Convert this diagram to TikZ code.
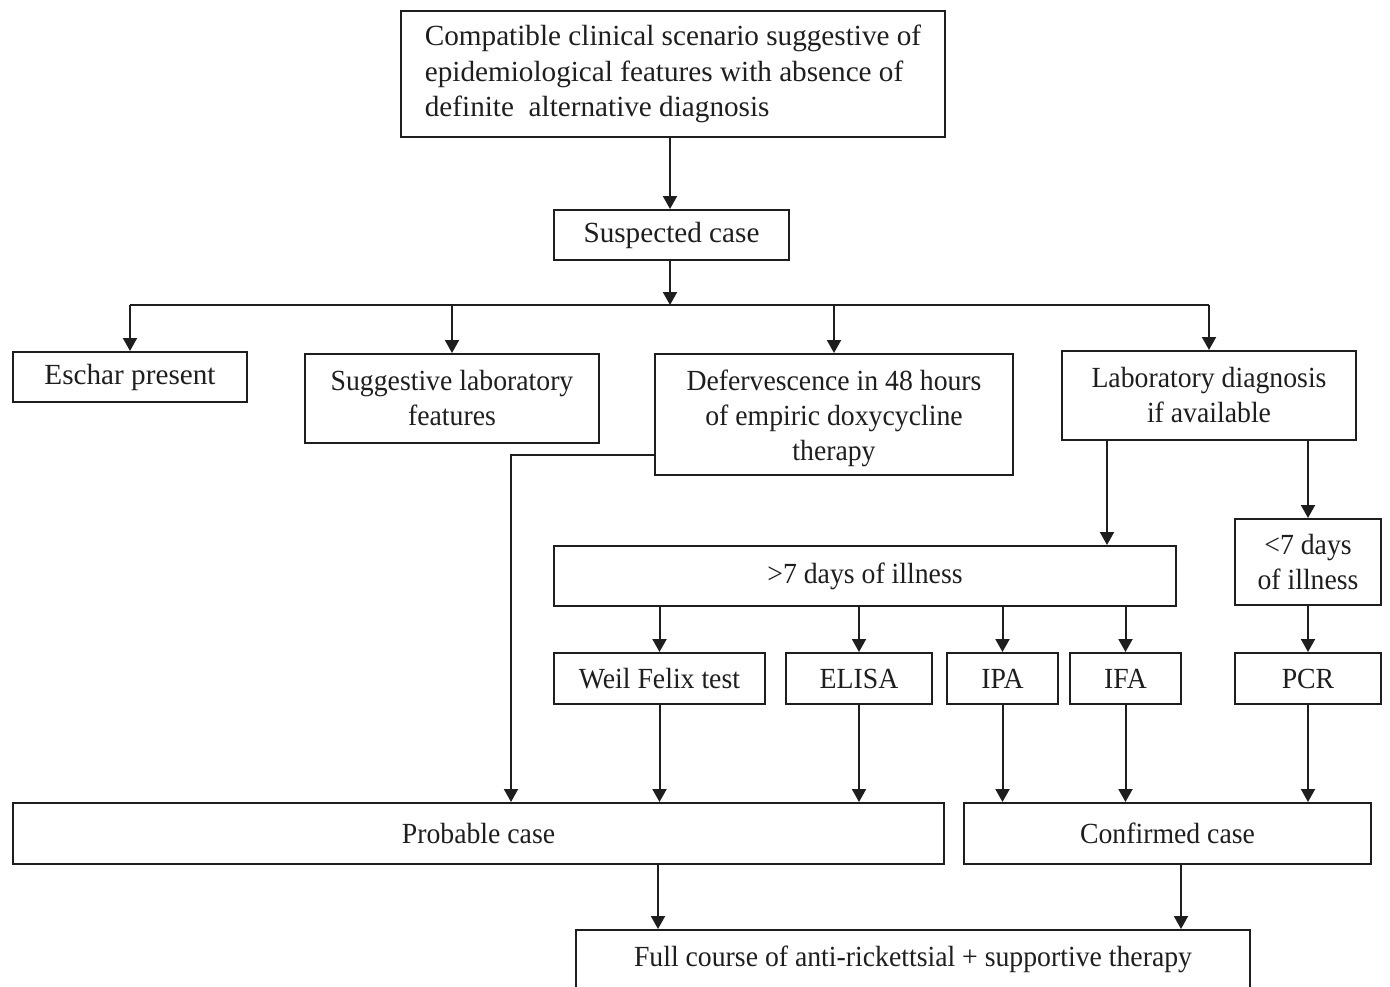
\documentclass[tikz,border=0pt]{standalone}
\usepackage{fontspec}
\setmainfont{Liberation Serif}[FakeStretch=0.95]
\newfontfamily\widefont{Liberation Serif}
\usetikzlibrary{arrows.meta}
\definecolor{ln}{RGB}{30,30,30}
\tikzset{
  bx/.style={draw=ln, line width=2pt, inner sep=0pt, align=center,
    font=\fontsize{29.2}{35}\selectfont, text=ln},
  wide/.style={font=\widefont\fontsize{29.2}{35.5}\selectfont},
  arr/.style={draw=ln, line width=2pt, -{Triangle[length=13pt,width=14pt]}},
  ln2/.style={draw=ln, line width=2pt}
}
\begin{document}
\begin{tikzpicture}[x=1pt,y=-1pt]
\useasboundingbox (0,0) rectangle (1390,986);
\clip (0,0) rectangle (1390,986);
% nodes
\node[bx, wide, minimum width=544pt, minimum height=126pt, align=left] (top) at (673,74)
  {Compatible clinical scenario suggestive of\\epidemiological features with absence of\\definite\ \ alternative diagnosis};
\node[bx, wide, minimum width=235pt, minimum height=50pt] (sus) at (671.5,235) {Suspected case};
\node[bx, wide, minimum width=234pt, minimum height=50pt] (esc) at (130,377) {Eschar present};
\node[bx, minimum width=294pt, minimum height=89pt] (sug) at (452,398.5) {Suggestive laboratory\\features};
\node[bx, minimum width=358pt, minimum height=121pt] (def) at (834,414.5) {\rule{0pt}{28pt}Defervescence in 48 hours\\of empiric doxycycline\\therapy};
\node[bx, minimum width=294pt, minimum height=89pt] (lab) at (1209,395.5) {Laboratory diagnosis\\if available};
\node[bx, minimum width=622pt, minimum height=60pt] (gt) at (865,576) {>7 days of illness};
\node[bx, minimum width=146pt, minimum height=86pt] (lt) at (1308,562) {<7 days\\of illness};
\node[bx, minimum width=211pt, minimum height=51pt] (wf) at (659.5,678.5) {Weil Felix test};
\node[bx, minimum width=146pt, minimum height=51pt] (eli) at (859,678.5) {ELISA};
\node[bx, minimum width=111pt, minimum height=51pt] (ipa) at (1002.5,678.5) {IPA};
\node[bx, minimum width=111pt, minimum height=51pt] (ifa) at (1125.5,678.5) {IFA};
\node[bx, minimum width=146pt, minimum height=51pt] (pcr) at (1308,678.5) {PCR};
\node[bx, minimum width=931pt, minimum height=61pt] (prob) at (478.5,833.5) {Probable case};
\node[bx, minimum width=407pt, minimum height=61pt] (conf) at (1167.5,833.5) {Confirmed case};
\node[bx, minimum width=674pt, minimum height=58pt] (full) at (913,959) {Full course of anti-rickettsial + supportive therapy};
% connectors
\coordinate (bus) at (670,305);
\draw[arr] (top.south -| bus) -- (sus.north -| bus);
\draw[arr] (sus.south -| bus) -- (bus);
\draw[ln2] (bus -| esc.north) -- (bus -| lab.north);
\draw[arr] (bus -| esc.north) -- (esc.north);
\draw[arr] (bus -| sug.north) -- (sug.north);
\draw[arr] (bus -| def.north) -- (def.north);
\draw[arr] (bus -| lab.north) -- (lab.north);
\coordinate (dl) at (511,455);
\draw[arr] (def.west |- dl) -- (dl) -- (dl |- prob.north);
\coordinate (l1) at (1107,440);
\draw[arr] (lab.south -| l1) -- (gt.north -| l1);
\draw[arr] (lab.south -| lt.north) -- (lt.north);
\draw[arr] (gt.south -| wf.north) -- (wf.north);
\draw[arr] (gt.south -| eli.north) -- (eli.north);
\draw[arr] (gt.south -| ipa.north) -- (ipa.north);
\draw[arr] (gt.south -| ifa.north) -- (ifa.north);
\draw[arr] (lt.south) -- (pcr.north);
\draw[arr] (wf.south) -- (wf.south |- prob.north);
\draw[arr] (eli.south) -- (eli.south |- prob.north);
\draw[arr] (ipa.south) -- (ipa.south |- conf.north);
\draw[arr] (ifa.south) -- (ifa.south |- conf.north);
\draw[arr] (pcr.south) -- (pcr.south |- conf.north);
\coordinate (f1) at (658,900);
\coordinate (f2) at (1181,900);
\draw[arr] (prob.south -| f1) -- (full.north -| f1);
\draw[arr] (conf.south -| f2) -- (full.north -| f2);
\end{tikzpicture}
\end{document}
